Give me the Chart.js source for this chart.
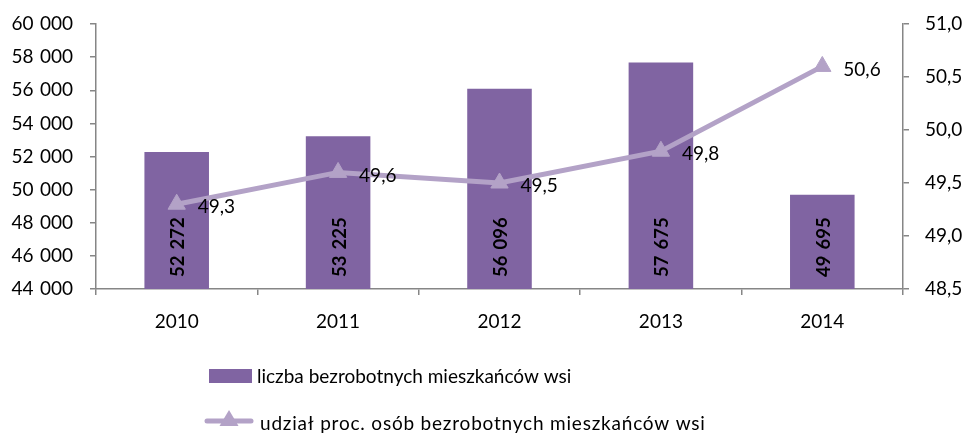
<!DOCTYPE html>
<html><head><meta charset="utf-8">
<script src="https://cdn.jsdelivr.net/npm/chart.js@4/dist/chart.umd.min.js"></script>
<style>html,body{margin:0;padding:0;background:#fff;overflow:hidden}#wrap{width:970px;height:435px;position:relative}</style>
</head><body><div id="wrap"><canvas id="c" width="970" height="435"></canvas></div>
<script>
const categories = ['2010', '2011', '2012', '2013', '2014'];
const unemployedRural = [52272, 53225, 56096, 57675, 49695];
const ruralSharePct = [49.3, 49.6, 49.5, 49.8, 50.6];
const leftAxis = { min: 44000, max: 60000, step: 2000 };
const rightAxis = { min: 48.5, max: 51.0, step: 0.5 };
const seriesNames = ['liczba bezrobotnych mieszkańców wsi', 'udział proc. osób bezrobotnych mieszkańców wsi'];

const BAR_COLOR = '#8064A2';
const LINE_COLOR = '#B3A2C7';
const AXIS_COLOR = '#868686';
const FONT = 'Lato, "Open Sans", sans-serif';
const SEP = '\u2004';

function fmtThousands(v) {
  return String(Math.round(v)).replace(/\B(?=(\d{3})+(?!\d))/g, SEP);
}
function fmtDec(v, d) {
  return v.toFixed(d).replace('.', ',');
}

const labelsPlugin = {
  id: 'labelsPlugin',
  afterDatasetsDraw(chart) {
    const ctx = chart.ctx;
    const bottom = chart.scales.y.getPixelForValue(leftAxis.min);
    const barMeta = chart.getDatasetMeta(0);
    ctx.save();
    ctx.fillStyle = '#000';
    ctx.font = 'bold 18.5px ' + FONT;
    ctx.textAlign = 'left';
    ctx.textBaseline = 'middle';
    barMeta.data.forEach((el, i) => {
      const p = el.getProps(['x'], true);
      ctx.save();
      ctx.translate(p.x + 1.5, bottom - 12);
      ctx.rotate(-Math.PI / 2);
      ctx.fillText(fmtThousands(unemployedRural[i]), 0, 0);
      ctx.restore();
    });
    const lineMeta = chart.getDatasetMeta(1);
    ctx.font = '19px ' + FONT;
    lineMeta.data.forEach((el, i) => {
      const p = el.getProps(['x', 'y'], true);
      ctx.fillText(fmtDec(ruralSharePct[i], 1), p.x + 21, p.y + 3);
    });
    ctx.restore();
  },
  afterDraw(chart) {
    const ctx = chart.ctx;
    ctx.save();
    ctx.font = '19px ' + FONT;
    ctx.textAlign = 'left';
    ctx.textBaseline = 'middle';
    ctx.fillStyle = BAR_COLOR;
    ctx.fillRect(209, 369, 43, 14);
    ctx.fillStyle = '#000';
    ctx.fillText(seriesNames[0], 257, 377);
    ctx.strokeStyle = LINE_COLOR;
    ctx.lineWidth = 5;
    ctx.lineCap = 'round';
    ctx.beginPath();
    ctx.moveTo(207, 421);
    ctx.lineTo(251, 421);
    ctx.stroke();
    ctx.fillStyle = LINE_COLOR;
    ctx.beginPath();
    ctx.moveTo(229, 410);
    ctx.lineTo(238.5, 426);
    ctx.lineTo(219.5, 426);
    ctx.closePath();
    ctx.fill();
    ctx.fillStyle = '#000';
    try { ctx.letterSpacing = '0.8px'; } catch (e) {}
    ctx.fillText(seriesNames[1], 260, 424);
    ctx.restore();
  }
};

function noVPad(s) { s.paddingTop = 0; s.paddingBottom = 0; }

new Chart(document.getElementById('c'), {
  data: {
    labels: categories,
    datasets: [
      {
        type: 'bar',
        label: seriesNames[0],
        data: unemployedRural,
        backgroundColor: BAR_COLOR,
        barPercentage: 0.4,
        categoryPercentage: 1.0,
        yAxisID: 'y',
        order: 2
      },
      {
        type: 'line',
        label: seriesNames[1],
        data: ruralSharePct,
        borderColor: LINE_COLOR,
        backgroundColor: LINE_COLOR,
        borderWidth: 5,
        pointStyle: 'triangle',
        pointRadius: 10,
        pointHoverRadius: 10,
        pointBackgroundColor: LINE_COLOR,
        pointBorderColor: LINE_COLOR,
        pointBorderWidth: 1,
        tension: 0,
        yAxisID: 'y1',
        order: 1
      }
    ]
  },
  options: {
    responsive: false,
    animation: false,
    devicePixelRatio: 1,
    layout: { padding: { top: 24, left: 0, right: 0, bottom: 100 } },
    plugins: { legend: { display: false }, tooltip: { enabled: false } },
    scales: {
      x: {
        offset: true,
        grid: { display: true, drawOnChartArea: false, drawTicks: true, tickLength: 6, offset: true, color: AXIS_COLOR, lineWidth: 1.5 },
        border: { display: true, color: AXIS_COLOR, width: 1.5 },
        ticks: { color: '#000', font: { family: FONT, size: 19 }, padding: 15 },
        afterFit(s) { s.height = 46; s.paddingLeft = 0; s.paddingRight = 0; }
      },
      y: {
        position: 'left',
        min: leftAxis.min, max: leftAxis.max,
        grid: { display: true, drawOnChartArea: false, drawTicks: true, tickLength: 6, color: AXIS_COLOR, lineWidth: 1.5 },
        border: { display: true, color: AXIS_COLOR, width: 1.5 },
        ticks: { stepSize: leftAxis.step, color: '#000', font: { family: FONT, size: 19 }, padding: 17, callback: v => fmtThousands(v) },
        afterFit(s) { s.width = 96; noVPad(s); }
      },
      y1: {
        position: 'right',
        min: rightAxis.min, max: rightAxis.max,
        grid: { display: true, drawOnChartArea: false, drawTicks: true, tickLength: 6, color: AXIS_COLOR, lineWidth: 1.5 },
        border: { display: true, color: AXIS_COLOR, width: 1.5 },
        ticks: { stepSize: rightAxis.step, color: '#000', font: { family: FONT, size: 19 }, padding: 16, callback: v => fmtDec(v, 1) },
        afterFit(s) { s.width = 67; noVPad(s); }
      }
    }
  },
  plugins: [labelsPlugin]
});
</script>
</body></html>
